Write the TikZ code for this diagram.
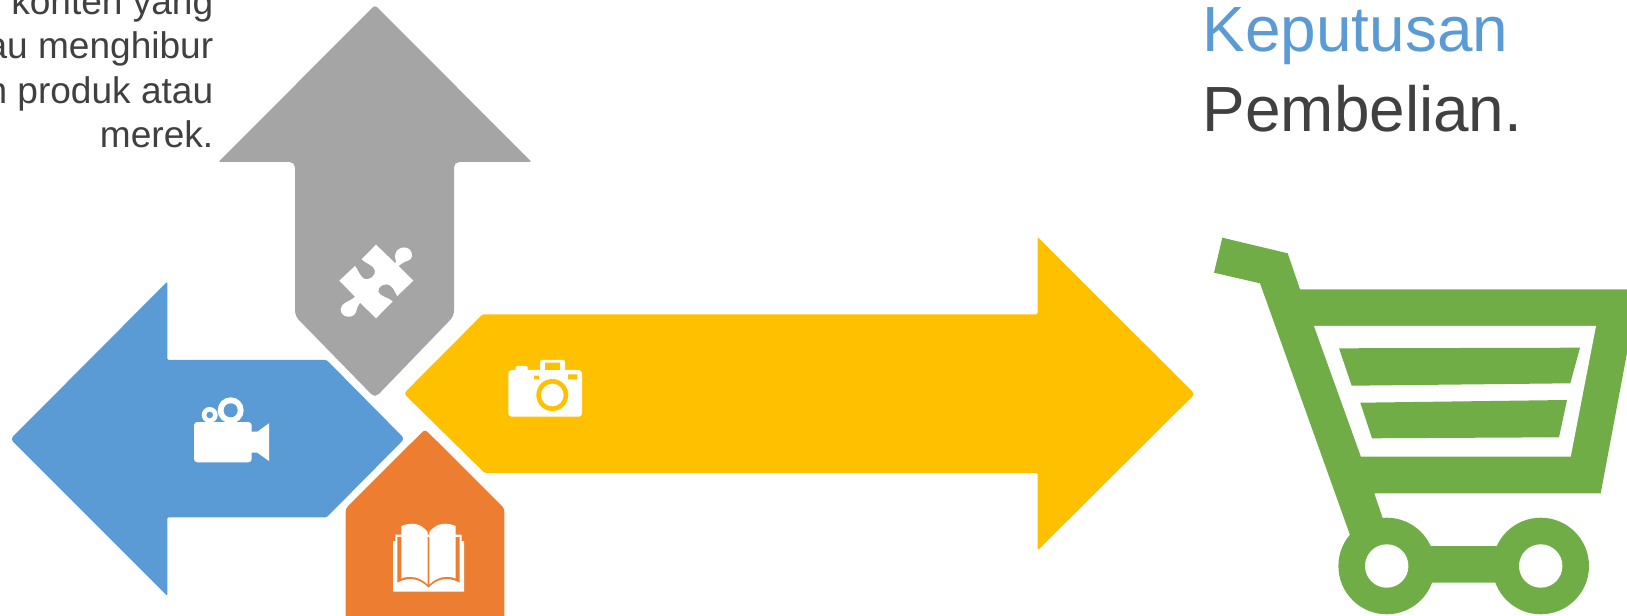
\documentclass[tikz,border=0pt]{standalone}
\usepackage{fontspec}
\setmainfont{Liberation Sans}
\definecolor{blueArrow}{HTML}{5B9BD5}
\definecolor{orangeArrow}{HTML}{ED7D31}
\definecolor{grayArrow}{HTML}{A5A5A5}
\definecolor{yellowArrow}{HTML}{FFC000}
\definecolor{cartGreen}{HTML}{70AD47}
\definecolor{textGray}{HTML}{404040}
\tikzset{
    arrow shape/.style={fill=#1, rounded corners=1pt},
    icon part/.style={fill=white, rounded corners=2.5pt},
    icon hole/.style={fill=#1},
    small text/.style={text=textGray, inner sep=0pt, anchor=base east, font=\fontsize{27.8}{33.45}\selectfont},
    big text/.style={inner sep=0pt, anchor=base west, font=\fontsize{47.9}{60}\selectfont}
}

\begin{document}
\begin{tikzpicture}[x=0.75pt, y=-0.75pt]
    \useasboundingbox (0,0) rectangle (1627,616);
    \clip (0,0) rectangle (1627,616);

    % texts
    \node[small text] (merek) at (213.5,148) {merek.};
    \node[small text] (atau) at (213.5,103.4) {n produk atau};
    \node[small text] (menghibur) at (213.5,58.8) {au menghibur};
    \node[small text] (konten) at (213.5,14.2) {konten yang};
    \node[big text, text=blueArrow] (keputusan) at (1202.5,52) {Keputusan};
    \node[big text, text=textGray] (pembelian) at (1202.5,132) {Pembelian.};

    % arrows
    \fill[arrow shape=grayArrow] [rounded corners=2.5pt] (375,5) [rounded corners=1pt] -- (531.5,162) [rounded corners=4pt] -- (454,162) -- (454,316) -- (375,398) -- (295,316) -- (295,162) [rounded corners=1pt] -- (218.5,162) [rounded corners=2.5pt] -- cycle;
    \fill[arrow shape=blueArrow] [rounded corners=2.5pt] (10.5,439) [rounded corners=1pt] -- (167.3,281.5) -- (167.3,360) -- (326.7,360) [rounded corners=2.5pt] -- (404.5,438.7) [rounded corners=1pt] -- (326.7,517.3) -- (167.3,517.3) -- (167.3,596) [rounded corners=2.5pt] -- cycle;
    \fill[arrow shape=yellowArrow] [rounded corners=2.5pt] (403.8,393.5) [rounded corners=1pt] -- (482.5,314.4) -- (1037.6,314.4) -- (1037.6,237) [rounded corners=2.5pt] -- (1194.8,394) [rounded corners=1pt] -- (1037.6,550.5) -- (1037.6,472.8) -- (484.5,472.8) [rounded corners=2.5pt] -- cycle;
    \fill[arrow shape=orangeArrow] [rounded corners=2.5pt] (425,429.3) -- (504.3,508.3) -- (504.3,640) -- (345.7,640) -- (345.7,508.3) -- cycle;

    % puzzle
    \begin{scope}[shift={(320,230)}, x=0.25pt, y=-0.25pt]
        \fill[white] (168,44) -- (226,100) .. controls (232,92) and (222,88) .. (226,72) .. controls (232,45) and (278,45) .. (276,78) .. controls (276,92) and (258,92) .. (250,98) .. controls (244,102) and (240,104) .. (236,108) -- (280,152) -- (232,198) .. controls (226,190) and (222,175) .. (212,168) .. controls (195,155) and (172,170) .. (175,185) .. controls (177,198) and (205,202) .. (218,214) -- (168,265) -- (120,218) .. controls (112,226) and (112,236) .. (108,246) .. controls (100,268) and (62,264) .. (62,238) .. controls (62,218) and (92,214) .. (105,200) -- (58,152) -- (105,108) .. controls (112,115) and (118,135) .. (130,145) .. controls (148,155) and (168,135) .. (165,122) .. controls (162,105) and (135,100) .. (125,88) -- cycle;
    \end{scope}

    % video camera
    \fill[white] (230.7,410.3) circle [radius=13] (209.7,415) circle [radius=8];
    \fill[icon hole=blueArrow] (230.7,410.3) circle [radius=7] (209.7,415) circle [radius=3.3];
    \fill[icon part] (194,422) rectangle (251.7,462.3);
    \fill[white] (250,431.7) -- (257.3,431.7) -- (269,423.3) -- (269,461) -- (257.3,452.7) -- (250,452.7) -- cycle;

    % camera
    \fill[icon part] (508.3,370) rectangle (582,416.7);
    \fill[icon part, rounded corners=1pt] (515.7,366) rectangle (527.7,372);
    \fill[icon part, rounded corners=1pt] (540,360) rectangle (565,372);
    \fill[icon hole=yellowArrow] (545,362.7) rectangle (560,370) (534,375.7) rectangle (539,379.3) (568,374.3) rectangle (577.3,379.3);
    \fill[icon hole=yellowArrow] (552.3,395) circle [radius=16];
    \fill[white] (552.3,395) circle [radius=11.3];

    % book
    \fill[white] (393,591.5) -- (393,541) -- (395.3,541) -- (395.3,534.5) -- (461.7,534.5) -- (461.7,541) -- (464,541) -- (464,591.5) -- cycle;
    \fill[orangeArrow] (397.3,537) -- (459.7,537) -- (459.7,582.5) .. controls (447,576) and (437,579) .. (428.5,587.5) .. controls (420,579) and (410,576) .. (397.3,582.5) -- cycle;
    \fill[white] (401.3,526) .. controls (410,522.5) and (420,522) .. (427.7,532) -- (427.7,584.5) .. controls (420,577) and (410,575) .. (401.3,578.5) -- cycle;
    \fill[white] (455.7,526) .. controls (447,522.5) and (437,522) .. (429.3,532) -- (429.3,584.5) .. controls (437,577) and (447,575) .. (455.7,578.5) -- cycle;

    % cart
    \fill[cartGreen] (1222.3,237.7) -- (1287.7,253.3) -- (1300,289.3) -- (1627,289.3) -- (1627,353) -- (1600.7,493.3) -- (1374.3,493.3) -- (1382.7,518.3) -- (1350,535) -- (1260,283.3) -- (1214,272.7) -- cycle;
    \fill[white] (1314,326) -- (1596,326) -- (1570.7,456.7) -- (1361,456.7) -- cycle;
    \fill[cartGreen] (1339,348.3) -- (1580,347.7) -- (1570.3,383.3) -- (1351.7,385.7) -- cycle;
    \fill[cartGreen] (1360.3,402.7) -- (1567,400) -- (1559,437.3) -- (1372,438.3) -- cycle;
    \fill[cartGreen] (1418,530) -- (1430,546) -- (1497,546) -- (1509,530) -- (1500,582.7) -- (1431,582.7) -- cycle;
    \fill[cartGreen] (1386.7,566) circle [radius=48.3] (1540.7,566) circle [radius=48.3];
    \fill[white] (1386.7,566) circle [radius=21.7] (1540.7,566) circle [radius=21.7];
\end{tikzpicture}
\end{document}
